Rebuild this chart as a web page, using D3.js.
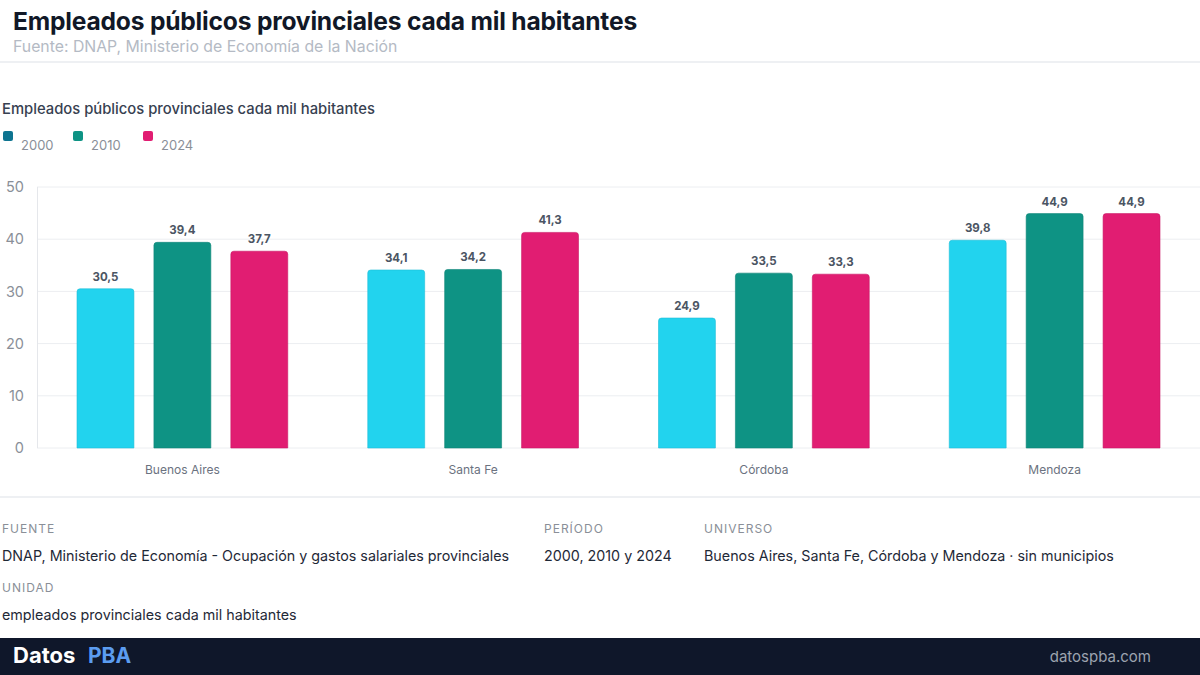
<!DOCTYPE html>
<html><head><meta charset="utf-8">
<script src="https://cdn.jsdelivr.net/npm/d3@7"></script>
<style>
html,body{margin:0;padding:0;background:#fff;}
svg{display:block;font-family:Inter, "Noto Sans", sans-serif;}
</style></head>
<body>
<svg id="c" width="1200" height="675"></svg>
<script>
const categories = ["Buenos Aires","Santa Fe","Córdoba","Mendoza"];
const seriesNames = ["2000","2010","2024"];
const values2000 = [30.5, 34.1, 24.9, 39.8];
const values2010 = [39.4, 34.2, 33.5, 44.9];
const values2024 = [37.7, 41.3, 33.3, 44.9];
const yTicks = [0,10,20,30,40,50];
const barColors = ["#22d3ee","#0e9384","#e11d72"];
const legendColors = ["#0e7490","#0e9384","#e11d72"];

const seriesValues = [values2000, values2010, values2024];
const svg = d3.select("#c");

// Header
svg.append("text").attr("x",13).attr("y",30).attr("font-size",24.6).attr("font-weight",700)
  .attr("fill","#111827").attr("letter-spacing",-0.2).text("Empleados públicos provinciales cada mil habitantes");
svg.append("text").attr("x",13).attr("y",51.5).attr("font-size",15.8).attr("fill","#b4bac4")
  .text("Fuente: DNAP, Ministerio de Economía de la Nación");
svg.append("rect").attr("x",0).attr("y",61).attr("width",1200).attr("height",2).attr("fill","#eef0f3");

// chart title
svg.append("text").attr("x",2).attr("y",114).attr("font-size",14.8).attr("font-weight",500)
  .attr("fill","#374151").text("Empleados públicos provinciales cada mil habitantes");

// legend
const legX = [3, 73, 143];
seriesNames.forEach((s,i)=>{
  svg.append("rect").attr("x",legX[i]).attr("y",131).attr("width",10).attr("height",10).attr("rx",2)
    .attr("fill",legendColors[i]);
  svg.append("text").attr("x",legX[i]+18).attr("y",150).attr("font-size",13).attr("fill","#8a8f98").text(s);
});

// plot
const x0 = d3.scaleBand().domain(categories).range([37,1200]).paddingInner(0).paddingOuter(0);
const x1 = d3.scaleBand().domain(seriesNames).range([40, x0.bandwidth()-40]).paddingInner(0.26).paddingOuter(0);
const y = d3.scaleLinear().domain([0,50]).range([448,187]);

const g = svg.append("g");
g.selectAll("line.grid").data(yTicks).join("line").attr("class","grid")
  .attr("x1",37).attr("x2",1200).attr("y1",d=>y(d)).attr("y2",d=>y(d))
  .attr("stroke","#eceef1").attr("stroke-width",1);
g.append("line").attr("x1",37.5).attr("x2",37.5).attr("y1",187).attr("y2",448).attr("stroke","#e5e7eb");

const yAxis = d3.axisLeft(y).tickValues(yTicks).tickSize(0).tickPadding(0).tickFormat(d3.format("d"));
const ya = svg.append("g").attr("transform","translate(24,0)").call(yAxis);
ya.select(".domain").remove();
ya.selectAll("text").attr("font-size",14.5).attr("fill","#8a8f98").attr("font-family","Inter, sans-serif");

const xAxis = d3.axisBottom(x0).tickSize(0).tickPadding(0);
const xa = svg.append("g").attr("transform","translate(0,465)").call(xAxis);
xa.select(".domain").remove();
xa.selectAll("text").attr("font-size",12).attr("fill","#6b7280").attr("font-family","Inter, sans-serif");

function topRounded(xp, yp, w, h, r){
  return `M${xp},${yp+h}V${yp+r}Q${xp},${yp} ${xp+r},${yp}H${xp+w-r}Q${xp+w},${yp} ${xp+w},${yp+r}V${yp+h}Z`;
}
const fmt = v => d3.format(".1f")(v).replace(".",",");
categories.forEach((c,ci)=>{
  seriesNames.forEach((s,si)=>{
    const v = seriesValues[si][ci];
    const bx = x0(c)+x1(s), bw = x1.bandwidth(), by = y(v), bh = y(0)-y(v);
    g.append("path").attr("d",topRounded(bx,by,bw,bh,3)).attr("fill",barColors[si])
      .attr("stroke",d3.color(barColors[si]).darker(0.3)).attr("stroke-width",0.6);
    g.append("text").attr("x",bx+bw/2).attr("y",by-8).attr("text-anchor","middle")
      .attr("font-size",11.5).attr("font-weight",700).attr("fill","#4b5563").text(fmt(v));
  });
});

// divider
svg.append("rect").attr("x",0).attr("y",496).attr("width",1200).attr("height",2).attr("fill","#eef0f3");

// metadata
const meta = [
  {lab:"FUENTE", val:"DNAP, Ministerio de Economía - Ocupación y gastos salariales provinciales", x:2, y:533},
  {lab:"PERÍODO", val:"2000, 2010 y 2024", x:544, y:533},
  {lab:"UNIVERSO", val:"Buenos Aires, Santa Fe, Córdoba y Mendoza · sin municipios", x:704, y:533},
  {lab:"UNIDAD", val:"empleados provinciales cada mil habitantes", x:2, y:592}
];
meta.forEach(m=>{
  svg.append("text").attr("x",m.x).attr("y",m.y).attr("font-size",12).attr("letter-spacing",1)
    .attr("fill","#8a8f98").text(m.lab);
  svg.append("text").attr("x",m.x).attr("y",m.y+28).attr("font-size",14.3).attr("fill","#1f2937").text(m.val);
});

// footer
svg.append("rect").attr("x",0).attr("y",638).attr("width",1200).attr("height",37).attr("fill","#0f172a");
svg.append("text").attr("x",13).attr("y",663).attr("font-size",22).attr("font-weight",700).attr("fill","#ffffff").text("Datos");
svg.append("text").attr("x",88).attr("y",663).attr("font-size",21).attr("font-weight",700).attr("fill","#5b9cf0").text("PBA");
svg.append("text").attr("x",1151).attr("y",662).attr("text-anchor","end").attr("font-size",15).attr("fill","#9ca3af").text("datospba.com");
</script>
</body></html>
